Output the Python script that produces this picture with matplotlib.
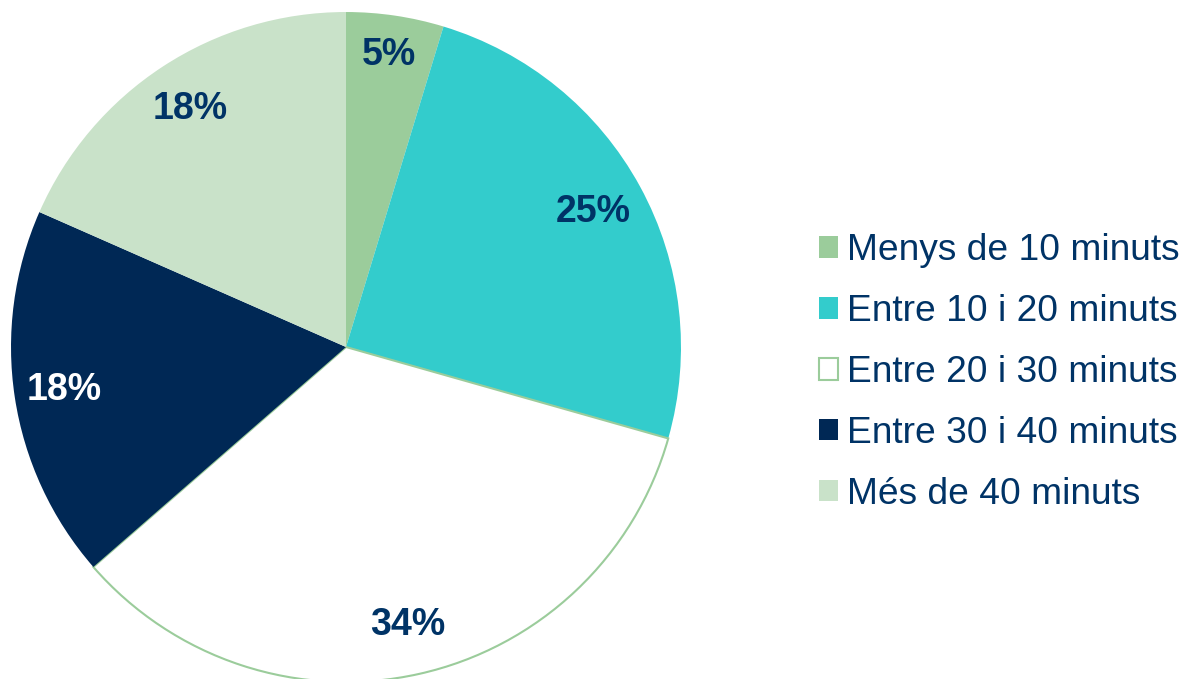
import numpy as np
import matplotlib.pyplot as plt

categories = ['Menys de 10 minuts', 'Entre 10 i 20 minuts', 'Entre 20 i 30 minuts',
              'Entre 30 i 40 minuts', 'Més de 40 minuts']
shares = [4.7, 24.7, 34.2, 18.0, 18.4]
colors = ['#9bcc9b', '#33cccc', '#ffffff', '#002855', '#c9e2c9']
label_colors = ['#003366', '#003366', '#003366', '#ffffff', '#003366']
label_radius = [0.88, 0.84, 0.85, 0.85, 0.85]
text_color = '#003366'

plt.rcParams['font.family'] = ['Liberation Sans', 'DejaVu Sans']

fig = plt.figure(figsize=(11.85, 6.79), dpi=100)
ax = fig.add_axes([0.00928, -0.0044, 0.5654, 0.9867])

wedges, texts, autotexts = ax.pie(
    shares, colors=colors, startangle=90, counterclock=False,
    autopct='%.0f%%', pctdistance=0.85, radius=1,
    wedgeprops=dict(linewidth=0),
    textprops=dict(color=text_color, fontsize=27, fontweight='bold'))

# white slice gets a thin green outline
wedges[2].set_edgecolor('#9bcc9b')
wedges[2].set_linewidth(1.5)

for w, t, c, r in zip(wedges, autotexts, label_colors, label_radius):
    mid = np.deg2rad((w.theta1 + w.theta2) / 2)
    t.set_position((r * np.cos(mid), r * np.sin(mid)))
    t.set_color(c)

ax.set_xlim(-1, 1)
ax.set_ylim(-1, 1)
ax.set_aspect('equal')
ax.axis('off')

leg = fig.legend(wedges, categories, loc='center left', bbox_to_anchor=(0.6911, 0.4514),
                 frameon=False, fontsize=26.7, handlelength=0.51, handleheight=0.51,
                 handletextpad=0.24, labelspacing=0.70, borderpad=0, borderaxespad=0)
for t in leg.get_texts():
    t.set_color(text_color)

fig.savefig('out.png', dpi=100)
